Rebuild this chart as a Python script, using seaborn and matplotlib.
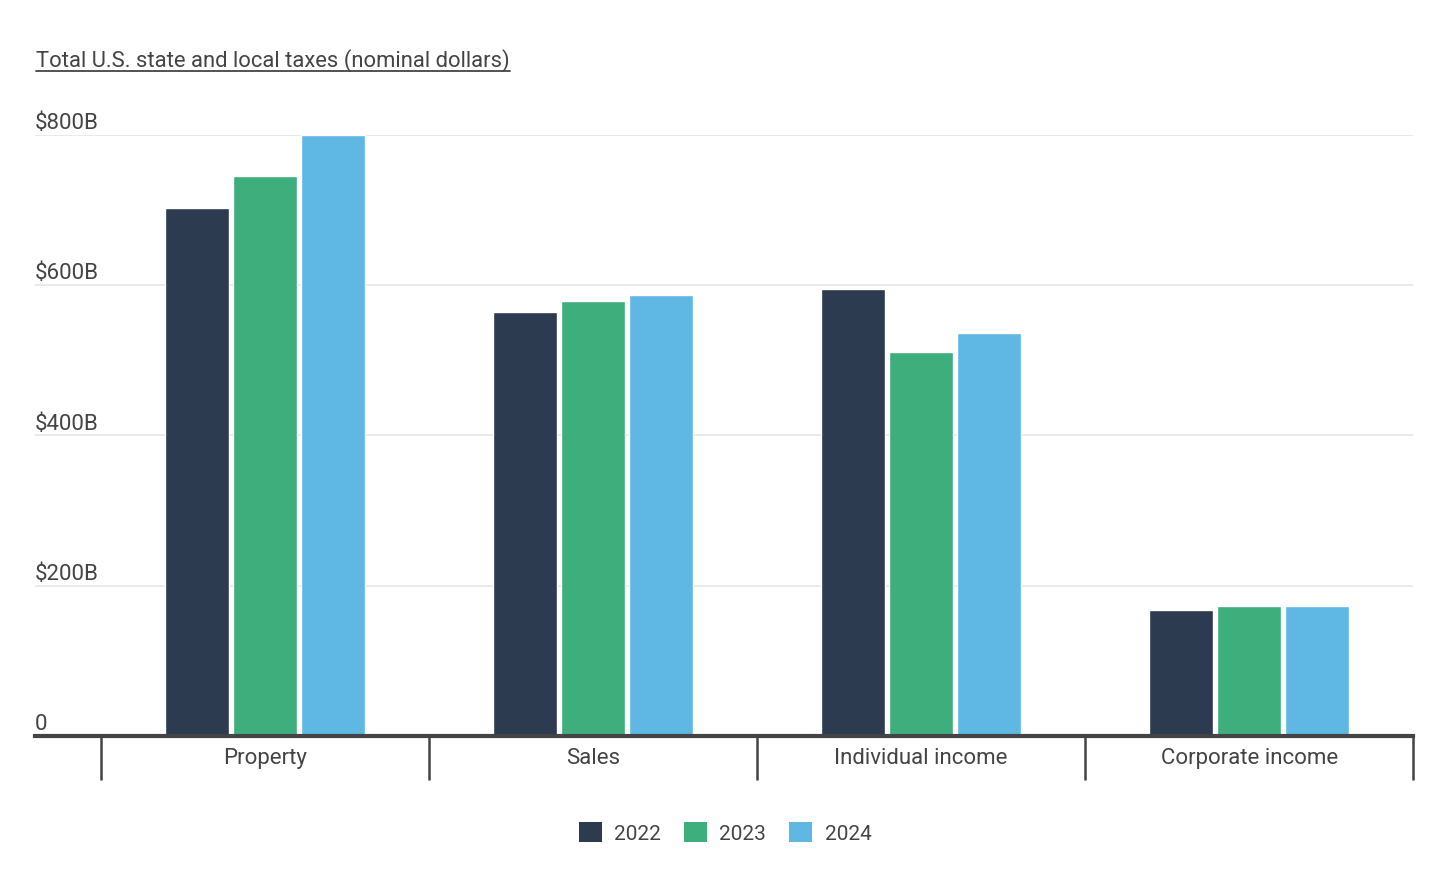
import matplotlib
matplotlib.use("Agg")
import matplotlib.pyplot as plt
import matplotlib.transforms as mtransforms
from matplotlib.lines import Line2D
from matplotlib.patches import Patch
import pandas as pd
import seaborn as sns

# data (billions of dollars)
categories = ["Property", "Sales", "Individual income", "Corporate income"]
years = ["2022", "2023", "2024"]
vals_2022 = [703, 564, 595, 168]
vals_2023 = [745, 579, 511, 173]
vals_2024 = [800, 587, 536, 173]
yticks = [0, 200, 400, 600, 800]
ytick_labels = ["0", "$200B", "$400B", "$600B", "$800B"]
colors = ["#2c3b4f", "#3eaf7c", "#5fb7e4"]

df = pd.DataFrame({
    "category": categories * 3,
    "year": [y for y in years for _ in categories],
    "value": vals_2022 + vals_2023 + vals_2024,
})

sns.set_theme(style="white")
plt.rcParams["font.family"] = ["Roboto", "DejaVu Sans"]
text_col = "#444444"

fig = plt.figure(figsize=(14.5, 8.75), dpi=100)
ax = fig.add_axes([0.0241, 0.1589, 0.9505, 0.6868])

sns.barplot(data=df, x="category", y="value", hue="year", order=categories,
            hue_order=years, palette=colors, width=0.62, gap=0.06,
            saturation=1, legend=False, ax=ax)

ax.set_xlim(-0.701, 3.5)
ax.set_ylim(0, 800)
ax.set_xlabel("")
ax.set_ylabel("")

# gridlines
for v in yticks[1:]:
    ax.axhline(v, color="#e6e6e6", lw=1.2, zorder=0)

# y labels sit above the gridlines
ax.set_yticks([])
trans = mtransforms.blended_transform_factory(ax.transAxes, ax.transData)
for v, lab in zip(yticks, ytick_labels):
    ax.text(0.0, v + 1, lab, transform=trans, ha="left", va="bottom",
            fontsize=16, color=text_col)

for s in ["top", "right", "left"]:
    ax.spines[s].set_visible(False)
ax.spines["bottom"].set_color(text_col)
ax.spines["bottom"].set_linewidth(3)
ax.spines["bottom"].set_zorder(5)

# category labels and separators
ax.set_xticks(range(len(categories)))
ax.set_xticklabels(categories, fontsize=16, color=text_col)
ax.tick_params(axis="x", length=0, pad=9)
xtrans = mtransforms.blended_transform_factory(ax.transData, ax.transAxes)
for b in [i - 0.5 for i in range(len(categories) + 1)]:
    ax.plot([b, b], [0, -0.073], transform=xtrans, color=text_col, lw=1.8,
            clip_on=False, solid_capstyle="butt")

# title with underline
title = fig.text(36 / 1450, 1 - 61 / 875, "Total U.S. state and local taxes (nominal dollars)",
                 fontsize=15.8, color=text_col, ha="left", va="center")
fig.canvas.draw()
bb = title.get_window_extent().transformed(fig.transFigure.inverted())
fig.add_artist(Line2D([bb.x0, bb.x1], [bb.y0 + 0.002, bb.y0 + 0.002],
                      transform=fig.transFigure, color=text_col, lw=1.3))

# legend
handles = [Patch(facecolor=c, edgecolor="none", label=y) for c, y in zip(colors, years)]
fig.legend(handles=handles, loc="center", bbox_to_anchor=(0.5, 1 - 833 / 875), ncol=3,
           frameon=False, fontsize=15, handlelength=1.1, handleheight=1.1,
           handletextpad=0.6, columnspacing=1.1, labelcolor=text_col)

fig.savefig("out.png", dpi=100)
